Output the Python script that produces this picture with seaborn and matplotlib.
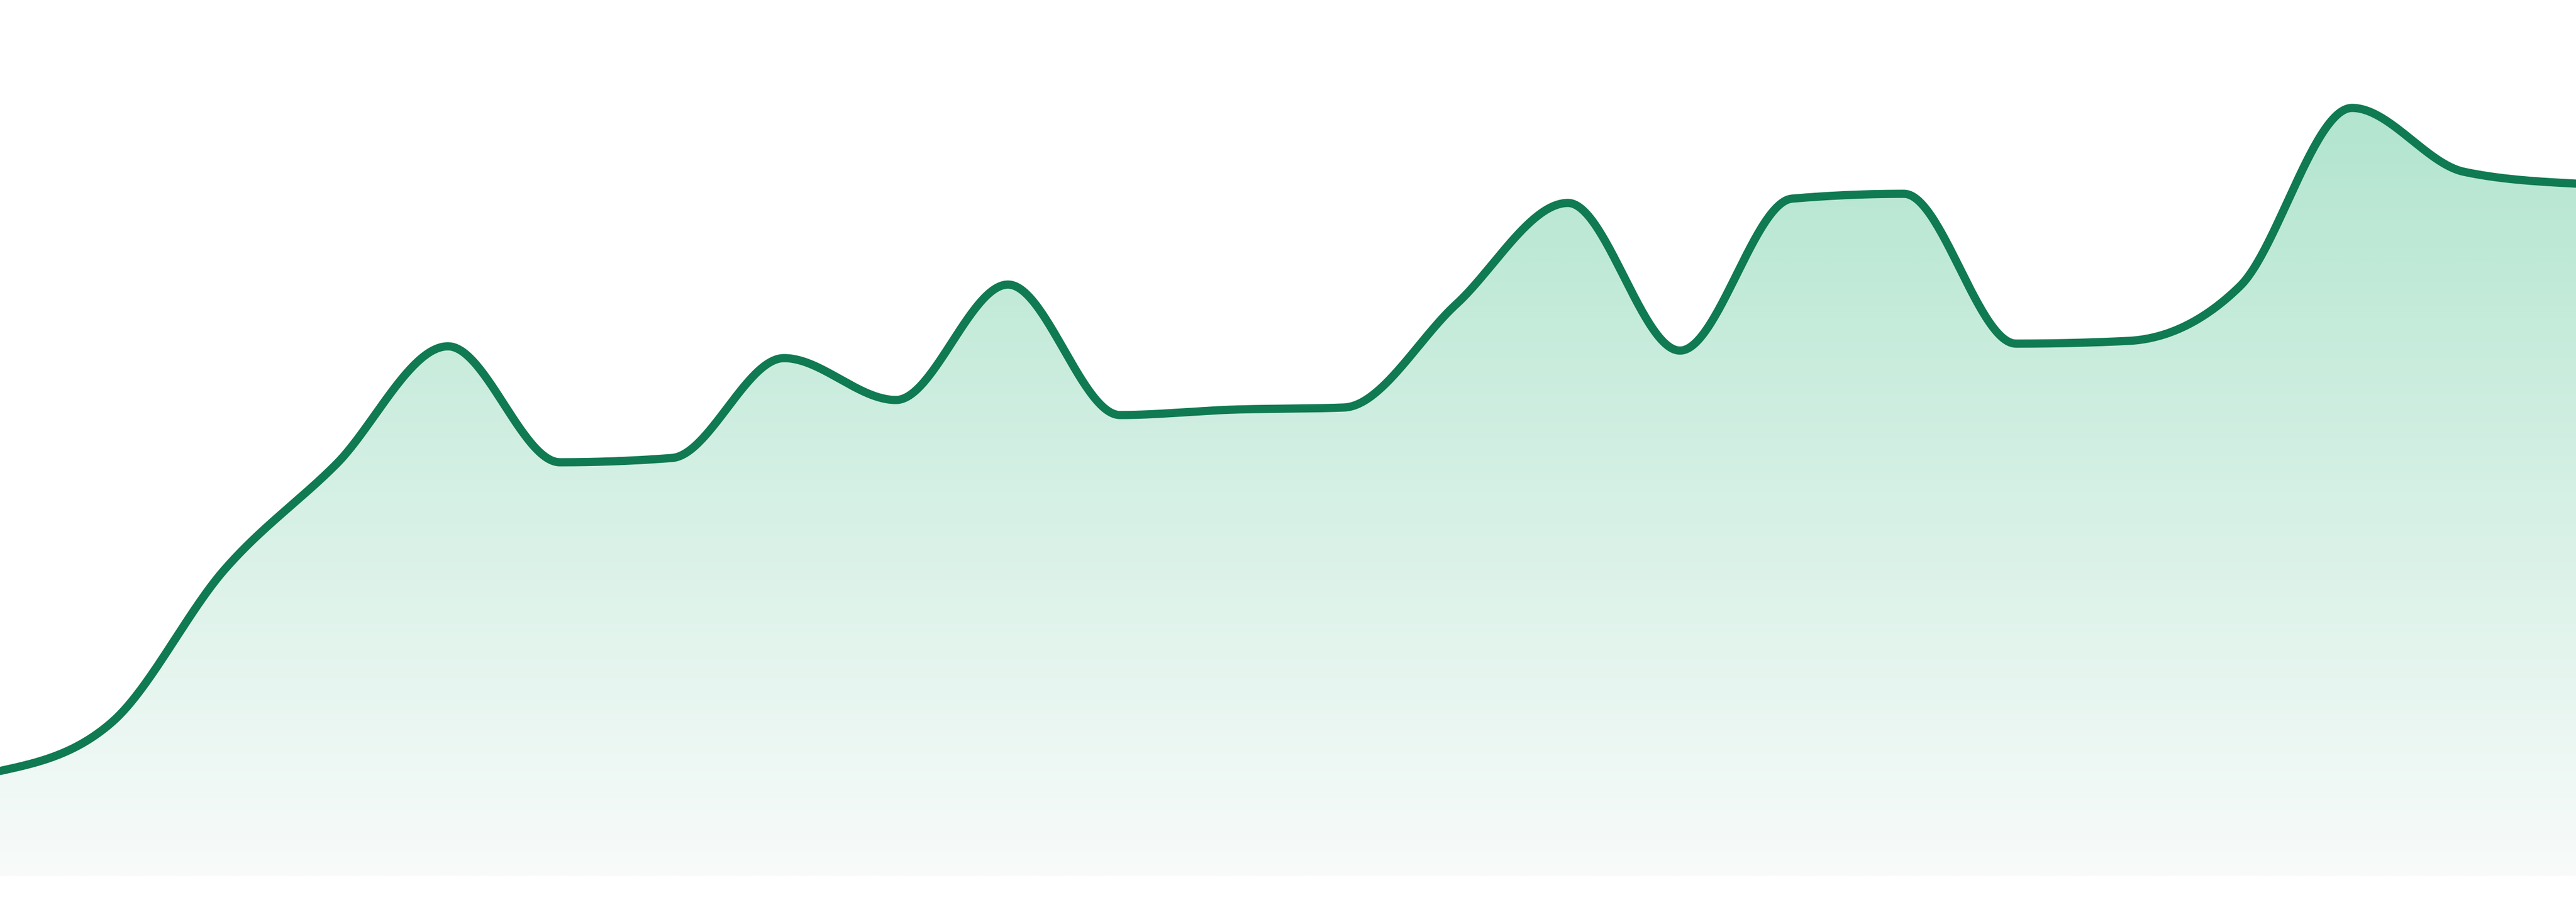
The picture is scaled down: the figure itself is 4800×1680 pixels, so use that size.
import numpy as np
import pandas as pd
import matplotlib
matplotlib.use("Agg")
import matplotlib.pyplot as plt
import seaborn as sns
from matplotlib.colors import LinearSegmentedColormap

# =====================================================
# DATA (24 evenly spaced samples)
# =====================================================

steps = list(range(24))
values = [196, 287, 570, 767, 987, 771, 779, 965, 887, 1102, 859, 869,
          873, 1065, 1254, 979, 1262, 1271, 992, 997, 1099, 1431, 1312, 1290]

y_top = 1632

line_color = "#107a52"
fill_top = "#b2e5cf"
fill_bottom = "#f8fbfa"

# =====================================================
# MONOTONE CUBIC CURVE (same idea as d3 curveMonotoneX)
# =====================================================

def sgn(v):
    return -1.0 if v < 0 else 1.0


def monotone_curve(x, y, samples=60):
    x = np.asarray(x, dtype=float)
    y = np.asarray(y, dtype=float)
    n = len(x)
    t = np.zeros(n)
    for i in range(1, n - 1):
        h0 = x[i] - x[i - 1]
        h1 = x[i + 1] - x[i]
        s0 = (y[i] - y[i - 1]) / h0
        s1 = (y[i + 1] - y[i]) / h1
        p = (s0 * h1 + s1 * h0) / (h0 + h1)
        t[i] = (sgn(s0) + sgn(s1)) * min(abs(s0), abs(s1), 0.5 * abs(p))
    t[0] = (3 * (y[1] - y[0]) / (x[1] - x[0]) - t[1]) / 2
    t[-1] = (3 * (y[-1] - y[-2]) / (x[-1] - x[-2]) - t[-2]) / 2

    xs, ys = [], []
    u = np.linspace(0, 1, samples)
    for i in range(n - 1):
        dx = (x[i + 1] - x[i]) / 3
        p0 = (x[i], y[i])
        p1 = (x[i] + dx, y[i] + dx * t[i])
        p2 = (x[i + 1] - dx, y[i + 1] - dx * t[i + 1])
        p3 = (x[i + 1], y[i + 1])
        uu = u if i == 0 else u[1:]
        b0 = (1 - uu) ** 3
        b1 = 3 * (1 - uu) ** 2 * uu
        b2 = 3 * (1 - uu) * uu ** 2
        b3 = uu ** 3
        xs.append(b0 * p0[0] + b1 * p1[0] + b2 * p2[0] + b3 * p3[0])
        ys.append(b0 * p0[1] + b1 * p1[1] + b2 * p2[1] + b3 * p3[1])
    return np.concatenate(xs), np.concatenate(ys)


curve_x, curve_y = monotone_curve(steps, values)
curve = pd.DataFrame({"step": curve_x, "value": curve_y})

# =====================================================
# PLOT
# =====================================================

sns.set_style("white")

fig = plt.figure(figsize=(48, 16.8), dpi=100)
ax = fig.add_axes([0, 48 / 1680, 1, 1632 / 1680])

# gradient fill under the curve
poly = ax.fill_between(curve["step"], curve["value"], 0, color="none", linewidth=0)
cmap = LinearSegmentedColormap.from_list("fade", [fill_bottom, fill_top])
grad = np.linspace(0, 1, 512).reshape(-1, 1)
img = ax.imshow(grad, cmap=cmap, origin="lower", aspect="auto",
                extent=[steps[0], steps[-1], 0, max(values)], zorder=1)
img.set_clip_path(poly.get_paths()[0], transform=ax.transData)

sns.lineplot(data=curve, x="step", y="value", ax=ax, color=line_color,
             linewidth=11, sort=False, estimator=None, zorder=3)

ax.set_xlim(steps[0], steps[-1])
ax.set_ylim(0, y_top)
ax.axis("off")

fig.savefig("out.png", dpi=100, facecolor="white")
plt.close()
